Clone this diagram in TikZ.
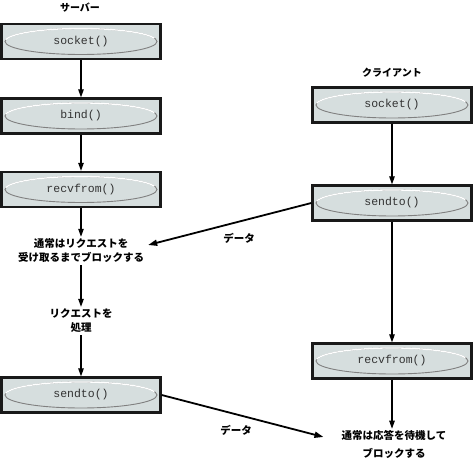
\documentclass[tikz,border=0pt]{standalone}
\usepackage{fontspec}
\newfontfamily\jpfont{Noto Sans CJK JP}
\newfontfamily\codefont{Liberation Mono}
\usetikzlibrary{arrows.meta}
\definecolor{boxfill}{RGB}{214,222,222}
\definecolor{codegray}{RGB}{50,50,50}
\begin{document}
\begin{tikzpicture}[x=1pt,y=1pt,
	callbox/.style={draw=black!90, line width=2.3pt, fill=boxfill, minimum width=159pt, minimum height=35pt, inner sep=0pt,
		text=codegray, font=\codefont\fontsize{11.5}{12}\selectfont,
		path picture={
			\draw[black!50, line width=0.9pt] (path picture bounding box.center) ellipse (76pt and 13pt);
			\draw[white, line width=1.3pt] (path picture bounding box.center) ++(172:76pt and 13pt) arc[start angle=172, end angle=15, x radius=76pt, y radius=13pt];
		}},
	note/.style={font=\jpfont\bfseries\fontsize{10.5}{14}\selectfont, align=center, inner sep=2pt},
	flow/.style={-{Triangle[length=8pt,width=5.5pt]}, line width=1.1pt},
	data/.style={-{Triangle[length=9pt,width=6pt]}, line width=1.8pt}]
	\useasboundingbox (0,0) rectangle (474,463);
	% server side
	\node[note, font=\jpfont\bfseries\fontsize{10}{12}\selectfont] (srvtitle) at (80,455) {サーバー};
	\node[callbox] (ssocket) at (81,421.5) {socket()};
	\node[callbox] (sbind) at (81,347) {bind()};
	\node[callbox] (srecv) at (81,273.5) {recvfrom()};
	\node[note] (swait) at (81,212) {通常はリクエストを\\受け取るまでブロックする};
	\node[note] (sproc) at (81,142) {リクエストを\\処理};
	\node[callbox] (ssend) at (81,68) {sendto()};
	\draw[flow] (ssocket)--(sbind);
	\draw[flow] (sbind)--(srecv);
	\draw[flow] (srecv)--(swait);
	\draw[flow] (swait)--(sproc);
	\draw[flow] (sproc)--(ssend);
	% client side
	\node[note, font=\jpfont\bfseries\fontsize{10}{12}\selectfont] (clititle) at (392,390) {クライアント};
	\node[callbox] (csocket) at (392,358) {socket()};
	\node[callbox] (csend) at (392,260) {sendto()};
	\node[callbox] (crecv) at (392,102) {recvfrom()};
	\node[note, font=\jpfont\bfseries\fontsize{10.5}{18}\selectfont] (cwait) at (394,18) {通常は応答を待機して\\ブロックする};
	\draw[flow] (csocket)--(csend);
	\draw[flow] (csend)--(crecv);
	\draw[flow] (crecv.south)--(crecv.south |- cwait.north);
	% data
	\draw[data] (csend.west)--([xshift=2pt,yshift=6pt]swait.east);
	\node[note] (data1) at (239,225) {データ};
	\draw[data] (ssend.east)--([xshift=-16pt,yshift=8pt]cwait.west);
	\node[note] (data2) at (236,33) {データ};
\end{tikzpicture}
\end{document}
